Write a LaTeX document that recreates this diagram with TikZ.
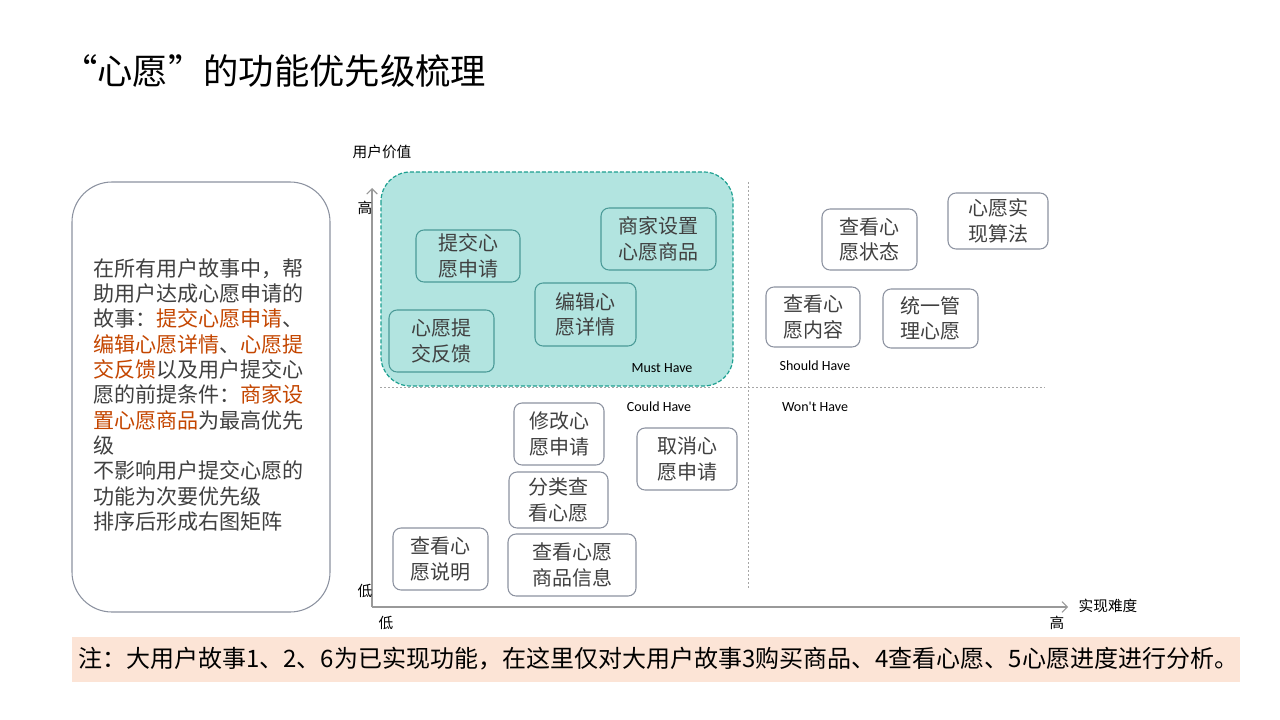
\documentclass[tikz,border=0pt]{standalone}
\usepackage{fontspec}
\setmainfont{Noto Sans CJK SC}
\newfontfamily\latinfont{Carlito}
\usepackage{tikz}
\usetikzlibrary{positioning,arrows.meta}
\definecolor{boxGray}{RGB}{140,146,160}
\definecolor{txtGray}{RGB}{64,64,64}
\definecolor{mustFill}{RGB}{178,228,224}
\definecolor{mustLine}{RGB}{30,160,145}
\definecolor{redTxt}{RGB}{196,70,0}
\definecolor{noteFill}{RGB}{252,228,214}
\tikzset{
  feat/.style={draw=boxGray,rounded corners=6pt,line width=0.8pt,align=left,
    font=\fontsize{15}{19}\selectfont,text=txtGray,inner sep=0pt},
  mustFeat/.style={feat,draw=mustLine!60!boxGray},
  tag/.style={font=\latinfont\fontsize{10.5}{12}\selectfont,text=black},
  axisTxt/.style={font=\fontsize{11}{12}\selectfont,text=black},
  divider/.style={draw=gray!70,dash pattern=on 1.5pt off 1.5pt,line width=0.6pt}
}
\newcommand{\hl}[1]{\textcolor{redTxt}{#1}}
\begin{document}
\begin{tikzpicture}[x=0.75pt,y=-0.75pt]
\useasboundingbox[fill=white] (0,0) rectangle (1280,720);
% title
\node[anchor=west,inner sep=0pt,font=\fontsize{26.5}{30}\selectfont] (title) at (62,71) {“心愿”的功能优先级梳理};
% left description
\draw[boxGray,line width=0.8pt,rounded corners=30pt] (72,182) rectangle (330,612);
\node[anchor=north west,align=left,inner sep=0pt,text=txtGray,
  font=\fontsize{15.8}{19}\selectfont] (desc) at (93,258) {%
在所有用户故事中，帮\\
助用户达成心愿申请的\\
故事：\hl{提交心愿申请}、\\
\hl{编辑心愿详情}、\hl{心愿提}\\
\hl{交反馈}以及用户提交心\\
愿的前提条件：\hl{商家设}\\
\hl{置心愿商品}为最高优先\\
级\\
不影响用户提交心愿的\\
功能为次要优先级\\
排序后形成右图矩阵};
% must have region
\draw[fill=mustFill,draw=mustLine,line width=0.9pt,dash pattern=on 3pt off 1.5pt,rounded corners=22pt]
  (381,172) rectangle (733,386);
% dividers
\draw[divider] (748,182) -- (748,590);
\draw[divider] (380,387) -- (1045,387);
% axes
\coordinate (origin) at (372,607);
\coordinate (yEnd) at (372,188);
\coordinate (xEnd) at (1068,607);
\draw[gray!80,line width=0.8pt,-{Straight Barb[length=4pt,width=8pt]}] (origin) -- (yEnd);
\draw[gray!80,line width=0.8pt,-{Straight Barb[length=4pt,width=8pt]}] (origin) -- (xEnd);
\node[axisTxt] (yLabel) at (382,152) {用户价值};
\node[axisTxt] (yHigh) at (365,208) {高};
\node[axisTxt] (yLow) at (365,591) {低};
\node[axisTxt] (xLow) at (386,623) {低};
\node[axisTxt] (xHigh) at (1057,623) {高};
\node[axisTxt,anchor=west] (xLabel) at (1074,606) {实现难度};
% quadrant tags
\node[tag] (mustTag) at (662,368) {Must Have};
\node[tag] (shouldTag) at (815,366) {Should Have};
\node[tag] (couldTag) at (659,407) {Could Have};
\node[tag] (wontTag) at (815,407) {Won't Have};
% features
\newcommand{\feature}[6]{\draw[#6] (#1,#2) rectangle (#3,#4);
  \node[feat,draw=none,anchor=center] at ({(#1+#3)/2},{(#2+#4)/2}) {#5};}
\feature{416}{230}{520}{282}{提交心\\愿申请}{mustFeat}
\feature{601}{208}{716}{270}{商家设置\\心愿商品}{mustFeat}
\feature{535}{283}{636}{346}{编辑心\\愿详情}{mustFeat}
\feature{389}{310}{494}{372}{心愿提\\交反馈}{mustFeat}
\feature{822}{209}{917}{270}{查看心\\愿状态}{feat}
\feature{948}{193}{1048}{249}{心愿实\\现算法}{feat}
\feature{766}{287}{860}{347}{查看心\\愿内容}{feat}
\feature{883}{289}{978}{348}{统一管\\理心愿}{feat}
\feature{514}{403}{604}{465}{修改心\\愿申请}{feat}
\feature{637}{428}{737}{490}{取消心\\愿申请}{feat}
\feature{509}{472}{608}{528}{分类查\\看心愿}{feat}
\feature{393}{528}{488}{590}{查看心\\愿说明}{feat}
\feature{508}{534}{636}{596}{查看心愿\\商品信息}{feat}
% note
\fill[noteFill] (72,637) rectangle (1240,682);
\node[anchor=west,inner sep=0pt,font=\fontsize{18}{20}\selectfont] (note) at (78,659)
  {注：大用户故事1、2、6为已实现功能，在这里仅对大用户故事3购买商品、4查看心愿、5心愿进度进行分析。};
\end{tikzpicture}
\end{document}
